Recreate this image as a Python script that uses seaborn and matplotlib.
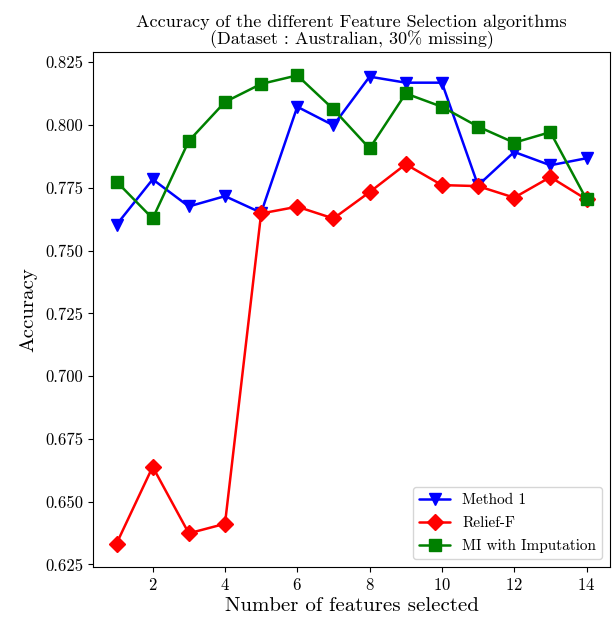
import matplotlib
matplotlib.use("Agg")
import matplotlib.pyplot as plt
import seaborn as sns
import pandas as pd

n_features = list(range(1, 15))
method1 = [0.7603, 0.7784, 0.7676, 0.7717, 0.7651, 0.8073, 0.7999, 0.8193,
           0.8169, 0.8169, 0.7760, 0.7893, 0.7840, 0.7868]
relief_f = [0.6333, 0.6639, 0.6374, 0.6412, 0.7648, 0.7675, 0.7628, 0.7733,
            0.7844, 0.7761, 0.7757, 0.7711, 0.7793, 0.7704]
mi_imputation = [0.7775, 0.7628, 0.7937, 0.8092, 0.8164, 0.8198, 0.8063, 0.7907,
                 0.8126, 0.8073, 0.7994, 0.7930, 0.7972, 0.7704]
series_names = ["Method 1", "Relief-F", "MI with Imputation"]

df = pd.concat([
    pd.DataFrame({"n": n_features, "acc": vals, "method": name})
    for name, vals in zip(series_names, [method1, relief_f, mi_imputation])
])

sns.set_style("ticks")
plt.rcParams["font.family"] = "serif"
plt.rcParams["font.serif"] = ["cmr10"]
plt.rcParams["mathtext.fontset"] = "cm"
plt.rcParams["axes.formatter.use_mathtext"] = True
plt.rcParams["axes.edgecolor"] = "black"
plt.rcParams["xtick.color"] = "black"
plt.rcParams["ytick.color"] = "black"
plt.rcParams["text.color"] = "black"
plt.rcParams["axes.labelcolor"] = "black"

fig = plt.figure(figsize=(6.14, 6.24), dpi=100)
ax = fig.add_axes([0.1515, 0.0913, 0.842, 0.8254])

sns.lineplot(data=df, x="n", y="acc", hue="method", style="method",
             palette={"Method 1": "blue", "Relief-F": "red", "MI with Imputation": "green"},
             markers={"Method 1": "v", "Relief-F": "D", "MI with Imputation": "s"},
             dashes=False, linewidth=1.8, markersize=8, markeredgewidth=1.0,
             ax=ax)
for line in ax.lines:
    line.set_markeredgecolor(line.get_color())

ax.set_title("Accuracy of the different Feature Selection algorithms\n(Dataset : Australian, 30% missing)",
             fontsize=13, linespacing=1.0)
ax.set_xlabel("Number of features selected", fontsize=15, labelpad=3)
ax.set_ylabel("Accuracy", fontsize=15, labelpad=6)
ax.tick_params(labelsize=12, length=3.5, width=0.8)
ax.set_xticks([2, 4, 6, 8, 10, 12, 14])
ax.set_yticks([0.625, 0.65, 0.675, 0.7, 0.725, 0.75, 0.775, 0.8, 0.825])
ax.set_yticklabels(["0.625", "0.650", "0.675", "0.700", "0.725", "0.750", "0.775", "0.800", "0.825"])
ax.margins(x=0.05, y=0.05)

leg = ax.legend(loc="lower right", fontsize=11, title=None, frameon=True,
                labelspacing=0.6)
for line in leg.get_lines():
    line.set_linewidth(1.8)
    line.set_markeredgecolor(line.get_color())

fig.savefig("out.png", dpi=100)
